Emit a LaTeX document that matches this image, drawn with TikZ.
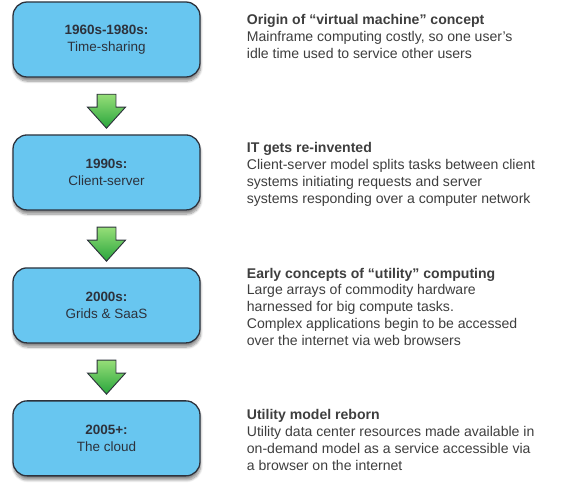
\documentclass[tikz,border=0pt]{standalone}
\usepackage{fontspec}
\setmainfont{Liberation Sans}
\usepackage{xcolor}
\usetikzlibrary{shapes.arrows, positioning, calc, shadows.blur}
\definecolor{boxblue}{RGB}{104,198,240}
\definecolor{boxedge}{RGB}{45,50,60}
\definecolor{arrowtop}{RGB}{150,222,120}
\definecolor{arrowbot}{RGB}{40,165,60}
\definecolor{notegray}{RGB}{62,62,62}

\begin{document}
\begin{tikzpicture}[
  node distance = 1.7cm,
  erabox/.style    = {rectangle, rounded corners=12pt, minimum width=5.61cm,
                      minimum height=2.25cm, align=center, fill=boxblue,
                      draw=boxedge, line width=1.1pt, text=boxedge,
                      font=\fontsize{11.5}{14}\selectfont,
                      blur shadow={shadow xshift=0.5pt, shadow yshift=-3.5pt,
                                   shadow blur steps=8, shadow opacity=45}},
  downarrow/.style = {single arrow, shape border rotate=270, inner sep=0.27cm,
                      minimum height=1.02cm, single arrow head extend=0.285cm,
                      single arrow tip angle=84, top color=arrowtop,
                      bottom color=arrowbot, draw=boxedge, line width=0.8pt},
  note/.style      = {align=left, inner sep=0pt, text=notegray,
                      font=\fontsize{12}{14.4}\selectfont},
]
\useasboundingbox (0,0) rectangle (16.98,-14.64);

%% --- Eras ---
\node[erabox] (b1) at (3.195,-1.185) {\textbf{1960s-1980s:}\\Time-sharing};
\node[erabox, below=of b1] (b2) {\textbf{1990s:}\\Client-server};
\node[erabox, below=of b2] (b3) {\textbf{2000s:}\\Grids \& SaaS};
\node[erabox, below=of b3] (b4) {\textbf{2005+:}\\The cloud};

%% --- Arrows ---
\node[downarrow] (a1) at ($(b1.south)!0.5!(b2.north)$) {};
\node[downarrow] (a2) at ($(b2.south)!0.5!(b3.north)$) {};
\node[downarrow] (a3) at ($(b3.south)!0.5!(b4.north)$) {};

%% --- Notes ---
\node[note, below right=0.39cm and 1.38cm of b1.north east] (n1)
  {\textbf{Origin of “virtual machine” concept}\\
   Mainframe computing costly, so one user’s\\
   idle time used to service other users};
\node[note, below right=0.24cm and 1.38cm of b2.north east] (n2)
  {\textbf{IT gets re-invented}\\
   Client-server model splits tasks between client\\
   systems initiating requests and server\\
   systems responding over a computer network};
\node[note, below right=0.01cm and 1.38cm of b3.north east] (n3)
  {\textbf{Early concepts of “utility” computing}\\
   Large arrays of commodity hardware\\
   harnessed for big compute tasks.\\
   Complex applications begin to be accessed\\
   over the internet via web browsers};
\node[note, below right=0.27cm and 1.38cm of b4.north east] (n4)
  {\textbf{Utility model reborn}\\
   Utility data center resources made available in\\
   on-demand model as a service accessible via\\
   a browser on the internet};

\end{tikzpicture}
\end{document}
